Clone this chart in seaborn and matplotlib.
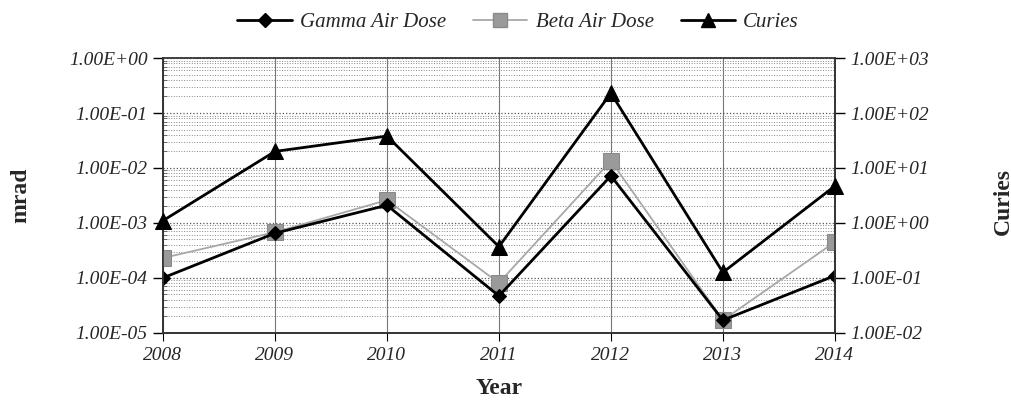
import numpy as np
import pandas as pd
import seaborn as sns
import matplotlib.pyplot as plt
from matplotlib.ticker import FixedLocator, FuncFormatter, LogLocator, NullFormatter
from matplotlib.lines import Line2D

# data
years = [2008, 2009, 2010, 2011, 2012, 2013, 2014]
gamma_dose = [1.0e-4, 6.5e-4, 2.1e-3, 4.7e-5, 7.2e-3, 1.7e-5, 1.1e-4]
beta_dose = [2.3e-4, 6.8e-4, 2.6e-3, 8.1e-5, 1.35e-2, 1.7e-5, 4.5e-4]
curies = [1.1, 20.0, 38.0, 0.37, 230.0, 0.126, 4.7]

df = pd.DataFrame({'Year': years, 'Gamma': gamma_dose, 'Beta': beta_dose, 'Curies': curies})

sns.set_style('white')
serif = ['Liberation Serif', 'DejaVu Serif']
plt.rcParams['font.family'] = serif

fig = plt.figure(figsize=(10.12, 4.03), dpi=100)
ax = fig.add_axes([0.161, 0.174, 0.664, 0.682])
ax2 = ax.twinx()

ax.set_yscale('log')
ax2.set_yscale('log')
ax.set_ylim(1e-5, 1)
ax2.set_ylim(1e-2, 1e3)
ax.set_xlim(2008, 2014)

# dotted horizontal grid, solid vertical lines at the years
ax.yaxis.set_minor_locator(LogLocator(base=10, subs=np.arange(2, 10)))
ax.yaxis.set_minor_formatter(NullFormatter())
ax.grid(which='major', axis='y', linestyle=':', color='#555555', linewidth=0.9)
ax.grid(which='minor', axis='y', linestyle=':', color='#888888', linewidth=0.7)
ax.grid(which='major', axis='x', linestyle='-', color='#777777', linewidth=0.8)
ax2.yaxis.set_minor_locator(FixedLocator([]))
ax2.grid(False)

sns.lineplot(data=df, x='Year', y='Beta', ax=ax, color='#a8a8a8', linewidth=1.3,
             marker='s', markersize=11, markerfacecolor='#9a9a9a', markeredgecolor='#8a8a8a',
             zorder=3)
sns.lineplot(data=df, x='Year', y='Gamma', ax=ax, color='black', linewidth=2,
             marker='D', markersize=7, markerfacecolor='black', markeredgecolor='black',
             zorder=4)
sns.lineplot(data=df, x='Year', y='Curies', ax=ax2, color='black', linewidth=2,
             marker='^', markersize=11, markerfacecolor='black', markeredgecolor='black',
             zorder=4, clip_on=False)

fmt = FuncFormatter(lambda v, p: f'{v:.2E}')
ax.yaxis.set_major_locator(FixedLocator([1e-5, 1e-4, 1e-3, 1e-2, 1e-1, 1e0]))
ax.yaxis.set_major_formatter(fmt)
ax2.yaxis.set_major_locator(FixedLocator([1e-2, 1e-1, 1e0, 1e1, 1e2, 1e3]))
ax2.yaxis.set_major_formatter(fmt)
ax.set_xticks(years)
ax.set_xticklabels([str(y) for y in years])

for lab in ax.get_yticklabels() + ax2.get_yticklabels() + ax.get_xticklabels():
    lab.set_fontfamily(serif)
    lab.set_fontstyle('italic')
    lab.set_fontsize(14)

ax.tick_params(axis='y', which='major', length=7, direction='out', left=True, width=1, color='black', pad=4)
ax.tick_params(axis='y', which='minor', length=3, direction='in', left=True, width=0.6, color='#555555')
ax2.tick_params(axis='y', which='major', length=7, direction='out', right=True, width=1, color='black', pad=4)
ax.tick_params(axis='x', length=6, direction='out', bottom=True, color='black', pad=4)

for a in (ax, ax2):
    for s in a.spines.values():
        s.set_visible(True)
        s.set_color('#333333')
        s.set_linewidth(1.2)
ax.spines['top'].set_color('#777777')
ax.spines['top'].set_linestyle(':')

ax.set_xlabel('Year', fontfamily=serif, fontweight='bold', fontsize=17, labelpad=10)
ax.set_ylabel('')
ax2.set_ylabel('')
fig.text(0.021, 0.515, 'mrad', rotation=90, va='center', ha='center',
         fontfamily=serif, fontweight='bold', fontsize=17)
fig.text(0.991, 0.50, 'Curies', rotation=90, va='center', ha='center',
         fontfamily=serif, fontweight='bold', fontsize=17)

handles = [
    Line2D([], [], color='black', linewidth=2, marker='D', markersize=7),
    Line2D([], [], color='#a8a8a8', linewidth=1.3, marker='s', markersize=10,
           markerfacecolor='#9a9a9a', markeredgecolor='#8a8a8a'),
    Line2D([], [], color='black', linewidth=2, marker='^', markersize=10),
]
fig.legend(handles, ['Gamma Air Dose', 'Beta Air Dose', 'Curies'], loc='center',
           bbox_to_anchor=(0.512, 0.945), ncol=3, frameon=False, handlelength=2.6,
           columnspacing=1.3, handletextpad=0.4,
           prop=dict(family=serif, style='italic', size=15))

fig.savefig('out.png', dpi=100)
